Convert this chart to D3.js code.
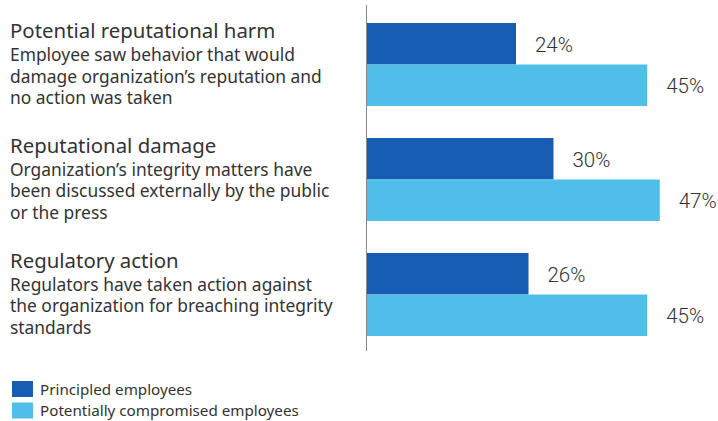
<!DOCTYPE html>
<html><head><meta charset="utf-8">
<script src="https://cdn.jsdelivr.net/npm/d3@7"></script>
<style>body{margin:0;background:#fff;} text{font-family:"Noto Sans",sans-serif;fill:#333;}</style>
</head><body><svg id="c" width="718" height="421"></svg>
<script>
const categories = ["Potential reputational harm","Reputational damage","Regulatory action"];
const descriptions = [
 ["Employee saw behavior that would","damage organization\u2019s reputation and","no action was taken"],
 ["Organization\u2019s integrity matters have","been discussed externally by the public","or the press"],
 ["Regulators have taken action against","the organization for breaching integrity","standards"]
];
const seriesNames = ["Principled employees","Potentially compromised employees"];
const principled = [24,30,26];
const compromised = [45,47,45];
const colors = ["#165db3","#4fbfea"];

const svg = d3.select("#c");
const x0 = 366;
const x = d3.scaleLinear().domain([0,100]).range([x0, x0+625]);
const y = d3.scaleBand().domain(categories).range([23,336]).paddingInner(0.278).paddingOuter(0);
const ys = d3.scaleBand().domain([0,1]).range([0,y.bandwidth()]);

const data = categories.map((c,i)=>({c, vals:[principled[i],compromised[i]]}));

const g = svg.selectAll("g.grp").data(data).join("g").attr("class","grp")
  .attr("transform",d=>`translate(0,${y(d.c)})`);
g.selectAll("rect").data(d=>d.vals).join("rect")
  .attr("x",x0).attr("y",(v,j)=>ys(j)).attr("width",v=>x(v)-x0).attr("height",ys.bandwidth())
  .attr("fill",(v,j)=>colors[j]);
g.selectAll("text.val").data(d=>d.vals).join("text").attr("class","val")
  .attr("x",v=>x(v)+19).attr("y",(v,j)=>ys(j)+ys.bandwidth()/2+8)
  .style("font-family","Roboto,sans-serif").style("font-weight","300").style("font-size","20.5px").text(v=>v+"%");

// axis line
svg.append("line").attr("x1",x0+0.5).attr("x2",x0+0.5).attr("y1",5).attr("y2",351)
  .attr("stroke","#888").attr("stroke-width",1);

// left labels
const lab = svg.selectAll("g.lab").data(categories).join("g").attr("class","lab")
  .attr("transform",d=>`translate(10,${y(d)+15})`);
lab.append("text").attr("y",0).style("font-size","20.4px").text(d=>d);
lab.each(function(d,i){
  d3.select(this).selectAll("text.desc").data(descriptions[i]).join("text").attr("class","desc")
    .attr("y",(t,k)=>22.8+k*21.7).style("font-size","17.4px").text(t=>t);
});

// legend
const leg = svg.selectAll("g.leg").data(seriesNames).join("g").attr("class","leg")
  .attr("transform",(d,i)=>`translate(12,${381+i*21.5})`);
leg.append("rect").attr("width",21).attr("height",16).attr("fill",(d,i)=>colors[i]);
leg.append("text").attr("x",28).attr("y",13.5).style("font-size","15.2px").text(d=>d);
</script></body></html>
